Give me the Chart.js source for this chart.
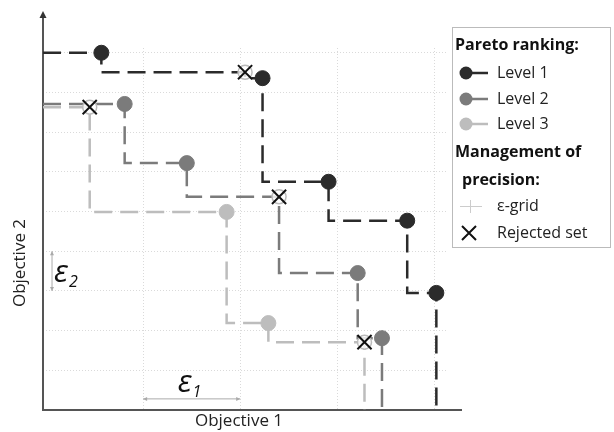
<!DOCTYPE html>
<html>
<head>
<meta charset="utf-8">
<script src="https://cdn.jsdelivr.net/npm/chart.js@4.4.1/dist/chart.umd.min.js"></script>
<style>
  html, body { margin: 0; padding: 0; background: #fff; }
  #wrap { width: 614px; height: 432px; }
</style>
</head>
<body>
<div id="wrap"><canvas id="chart" width="614" height="432"></canvas></div>
<script>
// grid (epsilon steps) on both objectives
const xGrid = [1, 2, 3, 4];
const yGrid = [1, 2, 3, 4, 5, 6, 7, 8, 9];

// kept points per Pareto level
const level1X = [0.57, 2.23, 2.91, 3.72, 4.02];
const level1Y = [9.0, 8.36, 5.75, 4.77, 2.95];
const level2X = [0.81, 1.45, 3.21, 3.46];
const level2Y = [7.71, 6.22, 3.45, 1.81];
const level3X = [1.86, 2.29];
const level3Y = [4.99, 2.19];

// rejected points (same grid cell as a better one)
const rejected1X = [2.05];
const rejected1Y = [8.51];
const rejected2X = [2.40];
const rejected2Y = [5.37];
const rejected3X = [0.45, 3.28];
const rejected3Y = [7.63, 1.71];

const X_MIN = -0.031;
const X_MAX = 4.14;
const Y_MIN = 0;
const Y_MAX = 9.12;

const FONT = "'Open Sans', 'Noto Sans', sans-serif";
const C1 = '#2b2b2b';
const C2 = '#7b7b7b';
const C3 = '#bdbdbd';

function toPoints(xs, ys) {
  return xs.map((x, i) => ({ x, y: ys[i] }));
}

function frontLine(xs, ys, rxs, rys) {
  const pts = toPoints(xs, ys).concat(toPoints(rxs, rys)).sort((a, b) => a.x - b.x);
  const last = pts[pts.length - 1];
  return [{ x: X_MIN, y: pts[0].y }].concat(pts, [{ x: last.x, y: Y_MIN }]);
}

function lineSet(data, color) {
  return {
    type: 'line',
    data,
    borderColor: color,
    borderWidth: 2.5,
    borderDash: [18, 8],
    stepped: 'after',
    pointRadius: 0,
    fill: false,
    clip: false,
    order: 3
  };
}

function markerSet(data, color) {
  return {
    type: 'scatter',
    data,
    backgroundColor: color,
    borderColor: color,
    pointRadius: 7.5,
    pointHoverRadius: 7.5,
    clip: false,
    order: 2
  };
}

const allRejected = toPoints(rejected1X, rejected1Y)
  .concat(toPoints(rejected2X, rejected2Y), toPoints(rejected3X, rejected3Y));

function arrowHead(ctx, x, y, dx, dy, size) {
  ctx.beginPath();
  ctx.moveTo(x, y);
  ctx.lineTo(x - dx * size - dy * size * 0.5, y - dy * size - dx * size * 0.5);
  ctx.lineTo(x - dx * size + dy * size * 0.5, y - dy * size + dx * size * 0.5);
  ctx.closePath();
  ctx.fill();
}

function epsLabel(ctx, sub, left, baseline) {
  ctx.font = 'italic 31px ' + FONT;
  ctx.fillText('\u03b5', left, baseline);
  const w = ctx.measureText('\u03b5').width;
  ctx.font = 'italic 16px ' + FONT;
  ctx.fillText(sub, left + w + 1, baseline + 5);
}

const decorPlugin = {
  id: 'decor',
  beforeDatasetsDraw(chart) {
    const { ctx, chartArea: a, scales } = chart;
    const xs = scales.x, ys = scales.y;
    ctx.save();
    // axes
    ctx.strokeStyle = '#555';
    ctx.fillStyle = '#333';
    ctx.lineWidth = 2;
    ctx.beginPath();
    ctx.moveTo(a.left, a.bottom);
    ctx.lineTo(a.left, a.top - 33);
    ctx.stroke();
    arrowHead(ctx, a.left, a.top - 37, 0, -1, 7);
    ctx.beginPath();
    ctx.moveTo(a.left - 1, a.bottom);
    ctx.lineTo(a.right + 14, a.bottom);
    ctx.stroke();

    // epsilon markers
    ctx.strokeStyle = '#aaa';
    ctx.fillStyle = '#aaa';
    ctx.lineWidth = 1;
    const ey = ys.getPixelForValue(0.28);
    const ex1 = xs.getPixelForValue(xGrid[0]);
    const ex2 = xs.getPixelForValue(xGrid[1]);
    ctx.beginPath();
    ctx.moveTo(ex1, ey);
    ctx.lineTo(ex2, ey);
    ctx.stroke();
    arrowHead(ctx, ex1, ey, -1, 0, 4);
    arrowHead(ctx, ex2, ey, 1, 0, 4);

    const vx = xs.getPixelForValue(0.062);
    const vy1 = ys.getPixelForValue(yGrid[3]);
    const vy2 = ys.getPixelForValue(yGrid[2]);
    ctx.beginPath();
    ctx.moveTo(vx, vy1);
    ctx.lineTo(vx, vy2);
    ctx.stroke();
    arrowHead(ctx, vx, vy1, 0, -1, 4);
    arrowHead(ctx, vx, vy2, 0, 1, 4);

    ctx.fillStyle = '#111';
    ctx.textBaseline = 'alphabetic';
    ctx.textAlign = 'left';
    epsLabel(ctx, '1', (ex1 + ex2) / 2 - 14, ey - 7);
    epsLabel(ctx, '2', vx + 2, (vy1 + vy2) / 2 + 11);

    // axis titles
    ctx.fillStyle = '#222';
    ctx.font = '17px ' + FONT;
    ctx.textAlign = 'center';
    ctx.textBaseline = 'middle';
    ctx.fillText('Objective 1', 239, a.bottom + 11);
    ctx.translate(20, 263);
    ctx.rotate(-Math.PI / 2);
    ctx.fillText('Objective 2', 0, 0);
    ctx.restore();
  },
  afterDraw(chart) {
    const { ctx } = chart;
    ctx.save();
    const bx = 452, by = 27, bw = 158, bh = 220;
    ctx.fillStyle = '#fff';
    ctx.fillRect(bx, by, bw, bh);
    ctx.strokeStyle = '#bbb';
    ctx.lineWidth = 1;
    ctx.strokeRect(bx + 0.5, by + 0.5, bw, bh);

    ctx.textBaseline = 'middle';
    ctx.textAlign = 'left';
    ctx.fillStyle = '#111';
    ctx.font = 'bold 16px ' + FONT;
    ctx.fillText('Pareto ranking:', 455, 45);
    ctx.fillText('Management of', 455, 152);
    ctx.fillText('precision:', 462, 180);

    const rows = [['Level 1', C1, 73], ['Level 2', C2, 99], ['Level 3', C3, 124]];
    rows.forEach(([label, color, y]) => {
      ctx.strokeStyle = color;
      ctx.fillStyle = color;
      ctx.lineWidth = 2.5;
      ctx.beginPath();
      ctx.moveTo(465, y);
      ctx.lineTo(488, y);
      ctx.stroke();
      ctx.beginPath();
      ctx.arc(466, y, 6.5, 0, Math.PI * 2);
      ctx.fill();
      ctx.fillStyle = '#222';
      ctx.font = '16px ' + FONT;
      ctx.fillText(label, 497, y);
    });

    // eps-grid sample
    ctx.strokeStyle = '#ccc';
    ctx.lineWidth = 1;
    ctx.beginPath();
    ctx.moveTo(460, 206.5);
    ctx.lineTo(482, 206.5);
    ctx.moveTo(470.5, 200);
    ctx.lineTo(470.5, 213);
    ctx.stroke();
    ctx.fillStyle = '#222';
    ctx.font = '16px ' + FONT;
    ctx.fillText('\u03b5-grid', 497, 206);

    // rejected sample
    ctx.strokeStyle = '#111';
    ctx.lineWidth = 2;
    ctx.beginPath();
    ctx.moveTo(462, 226);
    ctx.lineTo(476, 240);
    ctx.moveTo(476, 226);
    ctx.lineTo(462, 240);
    ctx.stroke();
    ctx.fillText('Rejected set', 497, 233);
    ctx.restore();
  }
};

new Chart(document.getElementById('chart'), {
  type: 'scatter',
  data: {
    datasets: [
      lineSet(frontLine(level3X, level3Y, rejected3X, rejected3Y), C3),
      lineSet(frontLine(level2X, level2Y, rejected2X, rejected2Y), C2),
      lineSet(frontLine(level1X, level1Y, rejected1X, rejected1Y), C1),
      markerSet(toPoints(level3X, level3Y), C3),
      markerSet(toPoints(level2X, level2Y), C2),
      markerSet(toPoints(level1X, level1Y), C1),
      {
        type: 'scatter',
        data: allRejected,
        backgroundColor: 'rgba(255,255,255,0.8)',
        borderColor: '#bbb',
        borderWidth: 1.5,
        pointRadius: 7,
        clip: false,
        order: 1
      },
      {
        type: 'scatter',
        data: allRejected,
        pointStyle: 'crossRot',
        borderColor: '#111',
        borderWidth: 2,
        pointRadius: 10,
        clip: false,
        order: 0
      }
    ]
  },
  options: {
    responsive: false,
    animation: false,
    events: [],
    layout: { padding: { left: 43, right: 166, top: 48, bottom: 22 } },
    plugins: { legend: { display: false }, tooltip: { enabled: false } },
    scales: {
      x: {
        type: 'linear',
        min: X_MIN,
        max: X_MAX,
        afterBuildTicks: axis => { axis.ticks = xGrid.map(v => ({ value: v })); },
        ticks: { display: false },
        grid: { color: '#dadada', lineWidth: 1, drawTicks: false },
        border: { display: false, dash: [1, 2] }
      },
      y: {
        type: 'linear',
        min: Y_MIN,
        max: Y_MAX,
        afterBuildTicks: axis => { axis.ticks = yGrid.map(v => ({ value: v })); },
        ticks: { display: false },
        grid: { color: '#dadada', lineWidth: 1, drawTicks: false },
        border: { display: false, dash: [1, 2] }
      }
    }
  },
  plugins: [decorPlugin]
});
</script>
</body>
</html>
